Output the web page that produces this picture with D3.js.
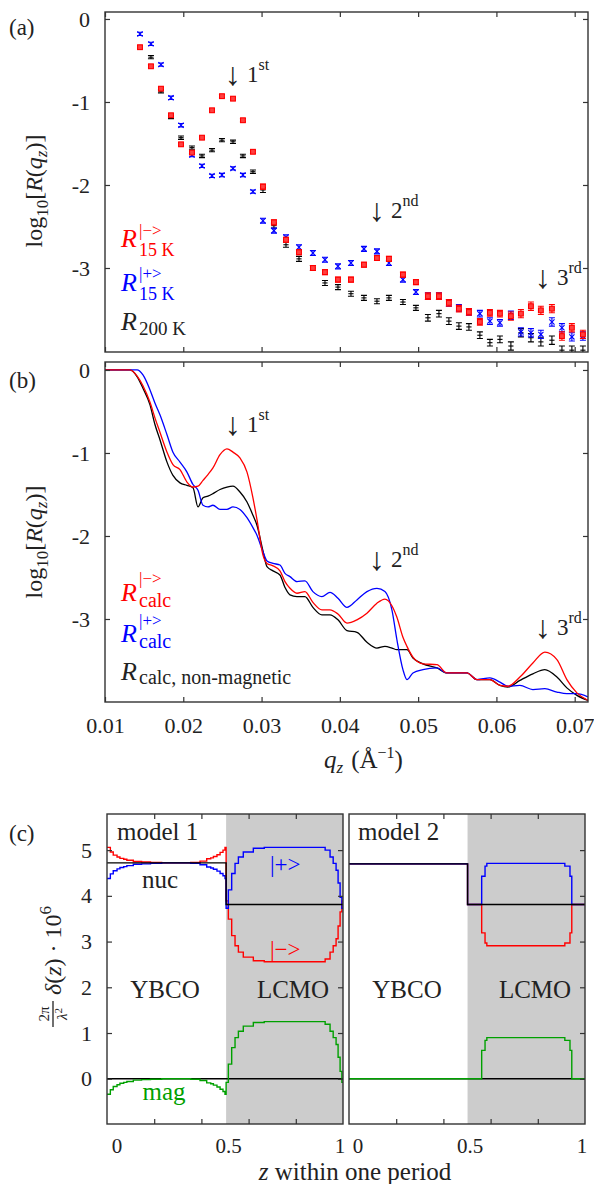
<!DOCTYPE html>
<html>
<head>
<meta charset="utf-8">
<script src="https://cdn.jsdelivr.net/npm/d3@7"></script>
<style>
  body { margin: 0; background: #fff; }
  text { font-family: "Liberation Serif", "DejaVu Serif", serif; }
</style>
</head>
<body>
<svg id="fig" width="594" height="1184"></svg>
<script>
// ---- (a) measured reflectivity, log10 R
const qA = [0.01447, 0.01587, 0.01715, 0.01843, 0.01971, 0.02111, 0.02239, 0.02367, 0.02494, 0.02635,
  0.02762, 0.02890, 0.03018, 0.03158, 0.03312, 0.03478, 0.03656, 0.03810, 0.03976, 0.04142,
  0.04308, 0.04474, 0.04627, 0.04806, 0.04972, 0.05125, 0.05266, 0.05393, 0.05521, 0.05649,
  0.05789, 0.05917, 0.06045, 0.06185, 0.06313, 0.06441, 0.06568, 0.06709, 0.06837, 0.06964, 0.07105]
const redA = [-0.34, -0.57, -0.84, -1.16, -1.51, -1.61, -1.43, -1.10, -0.93, -0.96,
  -1.22, -1.60, -2.02, -2.45, -2.66, -2.81, -3.00, -3.05, -3.14, -3.14,
  -2.96, -2.88, -2.89, -3.08, -3.17, -3.34, -3.34, -3.42, -3.49, -3.53,
  -3.65, -3.54, -3.55, -3.58, -3.55, -3.46, -3.51, -3.49, -3.82, -3.72, -3.80]
const blueA = [-0.18, -0.30, -0.55, -0.95, -1.28, -1.64, -1.77, -1.89, -1.88, -1.80,
  -1.88, -2.08, -2.43, -2.55, -2.63, -2.75, -2.82, -2.90, -2.98, -2.94,
  -2.77, -2.80, -2.94, -3.14, -3.29, -3.34, -3.34, -3.42, -3.48, -3.53,
  -3.55, -3.64, -3.66, -3.57, -3.77, -3.78, -3.80, -3.65, -3.72, -3.83, -3.82]
const blackA = [null, -0.46, -0.87, -1.18, -1.43, -1.55, -1.65, -1.58, -1.46, -1.48,
  -1.65, -1.84, -2.06, -2.49, -2.72, -2.89, -3.00, -3.18, -3.23, -3.31,
  -3.36, -3.40, -3.36, -3.41, -3.48, -3.60, -3.55, -3.64, -3.70, -3.71,
  -3.81, -3.90, -3.86, -3.94, -3.78, -3.84, -3.89, -3.87, -3.99, -3.99, -3.99]
const errA = [0.02, 0.02, 0.02, 0.02, 0.02, 0.02, 0.02, 0.02, 0.02, 0.02,
  0.02, 0.02, 0.03, 0.03, 0.03, 0.03, 0.03, 0.03, 0.03, 0.03,
  0.03, 0.03, 0.03, 0.03, 0.03, 0.04, 0.04, 0.04, 0.04, 0.04,
  0.04, 0.04, 0.04, 0.05, 0.05, 0.05, 0.05, 0.05, 0.05, 0.05, 0.05]

// ---- (b) calculated reflectivity, log10 R
const qB = [0.0100, 0.01319, 0.01409, 0.01485, 0.01575, 0.01639, 0.01702, 0.01792, 0.01868, 0.01958,
  0.02047, 0.02124, 0.02188, 0.02252, 0.02315, 0.02379, 0.02469, 0.02558, 0.02635, 0.02724,
  0.02814, 0.02890, 0.02941, 0.03018, 0.03069, 0.03146, 0.03235, 0.03299, 0.03363, 0.03452,
  0.03554, 0.03656, 0.03771, 0.03874, 0.03976, 0.04091, 0.04218, 0.04346, 0.04474, 0.04576,
  0.04665, 0.04729, 0.04806, 0.04857, 0.04934, 0.05061, 0.05240, 0.05368, 0.05496, 0.05623,
  0.05751, 0.05917, 0.06045, 0.06147, 0.06300, 0.06466, 0.06619, 0.06773, 0.06900, 0.07028, 0.07169]
const redB = [0, 0, -0.07, -0.19, -0.39, -0.58, -0.75, -0.99, -1.14, -1.20,
  -1.35, -1.41, -1.40, -1.33, -1.26, -1.18, -1.02, -0.95, -0.99, -1.06,
  -1.23, -1.54, -1.80, -2.23, -2.33, -2.36, -2.42, -2.55, -2.63, -2.69,
  -2.67, -2.80, -2.89, -2.89, -2.94, -3.05, -3.01, -2.93, -2.81, -2.76,
  -2.84, -2.98, -3.22, -3.33, -3.46, -3.54, -3.55, -3.65, -3.65, -3.65,
  -3.73, -3.73, -3.80, -3.81, -3.70, -3.53, -3.40, -3.49, -3.73, -3.89, -3.98]
const blueB = [0, 0, 0, -0.06, -0.24, -0.40, -0.54, -0.78, -0.99, -1.11,
  -1.23, -1.38, -1.45, -1.63, -1.65, -1.63, -1.68, -1.68, -1.65, -1.68,
  -1.78, -1.90, -1.99, -2.19, -2.30, -2.33, -2.35, -2.45, -2.49, -2.55,
  -2.54, -2.67, -2.73, -2.68, -2.75, -2.86, -2.77, -2.67, -2.63, -2.67,
  -2.89, -3.25, -3.61, -3.73, -3.65, -3.61, -3.59, -3.65, -3.65, -3.65,
  -3.73, -3.71, -3.76, -3.81, -3.80, -3.85, -3.84, -3.88, -3.90, -3.90, -3.94]
const blackB = [0, 0, -0.08, -0.22, -0.42, -0.66, -0.84, -1.11, -1.27, -1.36,
  -1.39, -1.42, -1.65, -1.54, -1.52, -1.49, -1.44, -1.41, -1.40, -1.47,
  -1.59, -1.75, -1.87, -2.18, -2.37, -2.42, -2.47, -2.62, -2.71, -2.73,
  -2.73, -2.86, -2.95, -2.95, -3.01, -3.14, -3.16, -3.28, -3.35, -3.33,
  -3.35, -3.37, -3.37, -3.37, -3.47, -3.54, -3.59, -3.65, -3.65, -3.65,
  -3.73, -3.73, -3.80, -3.82, -3.74, -3.66, -3.61, -3.70, -3.83, -3.92, -3.98]

const qTicks = [0.01, 0.02, 0.03, 0.04, 0.05, 0.06, 0.07]
const logTicks = [0, -1, -2, -3]

// ---- (c) depth profiles, z in units of one period
const iface = 0.489
const nucM1 = [4.72, 3.81] // YBCO, LCMO
const zM1 = [-0.045, -0.030, -0.017, 0.000, 0.013, 0.030, 0.044, 0.073, 0.110, 0.150,
  0.200, 0.290, 0.330, 0.372, 0.402, 0.420, 0.432, 0.448, 0.462, 0.475,
  0.484, 0.489, 0.499, 0.514, 0.529, 0.544, 0.566, 0.611, 0.660, 0.910,
  0.933, 0.955, 0.969, 0.982, 0.991, 1.000, 1.008, 1.013]
const magM1 = [-0.34, -0.24, -0.17, -0.13, -0.10, -0.08, -0.06, -0.03, -0.02, -0.01,
  0.00, 0.00, -0.01, -0.04, -0.09, -0.11, -0.14, -0.18, -0.23, -0.28,
  -0.34, -0.08, 0.32, 0.68, 0.90, 1.04, 1.15, 1.23, 1.25, 1.25,
  1.19, 1.04, 0.90, 0.75, 0.47, 0.16, -0.08, -0.08]
const nucM2 = [4.70, 3.81]
const zM2 = [-0.04, 0.489, 0.552, 0.567, 0.575, 0.923, 0.946, 0.954, 1.013]
const magM2 = [0, 0, 0.62, 0.84, 0.90, 0.84, 0.62, 0, 0]
const profTicks = [0, 1, 2, 3, 4, 5]

const RED = '#ff0000'
const BLUE = '#0000ff'
const BLK = '#000000'
const GRN = '#00a000'
const INK = '#222222'

const svg = d3.select('#fig')

// scales
const xQ = d3.scaleLinear().domain([0.01, 0.0717]).range([105, 588])
const yA = d3.scaleLinear().domain([-4.012, 0.084]).range([352, 12])
const yB = d3.scaleLinear().domain([-4.0, 0.096]).range([702, 362])
const xL = d3.scaleLinear().domain([-0.045, 1.013]).range([107, 343])
const xR = d3.scaleLinear().domain([-0.04, 1.013]).range([349, 585])
const yC = d3.scaleLinear().domain([-0.99, 5.79]).range([1124, 814])

function addClip (id, x, y) {
  svg.append('clipPath').attr('id', id).append('rect')
    .attr('x', x.range()[0]).attr('y', y.range()[1])
    .attr('width', x.range()[1] - x.range()[0])
    .attr('height', y.range()[0] - y.range()[1])
}

const noLabel = () => ''
function clean (s) {
  s.select('.domain').remove()
  s.attr('font-size', null).attr('font-family', null)
}

function axes (x, y, o) {
  const [x0, x1] = x.range()
  const [yb, yt] = y.range()
  const g = svg.append('g').attr('color', '#333').attr('font-size', o.fs || 22)
  g.append('g').attr('transform', `translate(0,${yb})`)
    .call(d3.axisBottom(x).tickValues(o.xt).tickSize(-5).tickPadding(15).tickFormat(o.xfmt || noLabel))
    .call(clean)
  g.append('g').attr('transform', `translate(0,${yt})`)
    .call(d3.axisTop(x).tickValues(o.xt).tickSize(-5).tickFormat(noLabel))
    .call(clean)
  if (o.left !== false) {
    g.append('g').attr('transform', `translate(${x0},0)`)
      .call(d3.axisLeft(y).tickValues(o.yt).tickSize(-5).tickPadding(15).tickFormat(o.yfmt || noLabel))
      .call(clean)
  }
  g.append('g').attr('transform', `translate(${x1},0)`)
    .call(d3.axisRight(y).tickValues(o.yt).tickSize(-5).tickFormat(noLabel))
    .call(clean)
  g.selectAll('.tick line').attr('stroke-width', 1.2)
  g.selectAll('.tick text').attr('fill', INK)
  g.append('rect').attr('x', x0).attr('y', yt).attr('width', x1 - x0).attr('height', yb - yt)
    .attr('fill', 'none').attr('stroke', '#333').attr('stroke-width', 1.4)
}

// ---------- panel (a)
addClip('clipA', xQ, yA)
const gA = svg.append('g').attr('clip-path', 'url(#clipA)')

function scatter (vals, color, kind) {
  const pts = qA.map((q, i) => ({ q, v: vals[i], e: errA[i] })).filter(d => d.v !== null)
  const g = gA.append('g').attr('stroke', color).attr('stroke-width', 1.1).attr('fill', 'none')
  const sel = g.selectAll('g').data(pts).join('g')
    .attr('transform', d => `translate(${xQ(d.q)},0)`)
  sel.append('path').attr('d', d => {
    const a = yA(d.v + d.e)
    const b = yA(d.v - d.e)
    return `M0,${a}V${b}M-3,${a}H3M-3,${b}H3`
  })
  if (kind === 'sq') {
    sel.append('rect').attr('x', -2.4).attr('y', d => yA(d.v) - 2.4)
      .attr('width', 4.8).attr('height', 4.8).attr('fill', '#ff4040')
  } else if (kind === 'x') {
    sel.append('path').attr('d', d => {
      const y = yA(d.v)
      return `M-2.6,${y - 2.6}L2.6,${y + 2.6}M-2.6,${y + 2.6}L2.6,${y - 2.6}`
    })
  } else {
    sel.append('path').attr('d', d => `M-2.6,${yA(d.v)}H2.6`)
  }
}
scatter(blackA, BLK, '+')
scatter(blueA, BLUE, 'x')
scatter(redA, RED, 'sq')

axes(xQ, yA, { xt: qTicks, yt: logTicks, yfmt: d => String(d) })

// ---------- panel (b)
addClip('clipB', xQ, yB)
const gB = svg.append('g').attr('clip-path', 'url(#clipB)').attr('fill', 'none').attr('stroke-width', 1.3)
const lineB = d3.line().x((d, i) => xQ(qB[i])).y(d => yB(d)).curve(d3.curveMonotoneX)
gB.append('path').attr('d', lineB(blackB)).attr('stroke', BLK)
gB.append('path').attr('d', lineB(blueB)).attr('stroke', BLUE)
gB.append('path').attr('d', lineB(redB)).attr('stroke', RED)

axes(xQ, yB, { xt: qTicks, yt: logTicks, yfmt: d => String(d), xfmt: d3.format('.2f') })

// ---------- panel (c)
function profile (x, zs, mags, nucLv, clipId) {
  const r1 = x.range()[1]
  const dom = x.domain()
  addClip(clipId, x, yC)
  svg.append('rect').attr('x', x(iface)).attr('y', yC.range()[1])
    .attr('width', r1 - x(iface)).attr('height', yC.range()[0] - yC.range()[1])
    .attr('fill', '#cccccc')
  const nuc = z => (z < iface ? nucLv[0] : nucLv[1])
  const g = svg.append('g').attr('clip-path', `url(#${clipId})`).attr('fill', 'none').attr('stroke-width', 1.4)
  const step = d3.line().x(d => x(d[0])).y(d => yC(d[1])).curve(d3.curveStepAfter)
  const lin = d3.line().x(d => x(d[0])).y(d => yC(d[1]))
  g.append('path').attr('d', lin([[dom[0], 0], [dom[1], 0]])).attr('stroke', BLK)
  g.append('path').attr('d', step(zs.map((z, i) => [z, mags[i]]))).attr('stroke', GRN)
  g.append('path').attr('d', step(zs.map((z, i) => [z, nuc(z) - mags[i]]))).attr('stroke', RED)
  g.append('path').attr('d', step(zs.map((z, i) => [z, nuc(z) + mags[i]]))).attr('stroke', BLUE)
  g.append('path').attr('d', lin([[dom[0], nucLv[0]], [iface, nucLv[0]], [iface, nucLv[1]], [dom[1], nucLv[1]]]))
    .attr('stroke', BLK)
  // fifths of the frame for the minor ticks
  return d3.range(1, 5).map(i => dom[0] + i * (dom[1] - dom[0]) / 5)
}
const ticksL = profile(xL, zM1, magM1, nucM1, 'clipC1')
axes(xL, yC, { xt: ticksL, yt: profTicks, yfmt: d => String(d), fs: 22 })
const ticksR = profile(xR, zM2, magM2, nucM2, 'clipC2')
axes(xR, yC, { xt: ticksR, yt: profTicks, left: false, fs: 22 })

// z tick labels
for (const x of [xL, xR]) {
  for (const v of [0, 0.5, 1]) {
    svg.append('text').attr('x', x(v)).attr('y', 1153).attr('text-anchor', 'middle')
      .attr('font-size', 21).attr('fill', INK).text(String(v))
  }
}

// ---------- text
function label (x, y, s, size, fill, anchor) {
  return svg.append('text').attr('x', x).attr('y', y).attr('font-size', size)
    .attr('fill', fill || INK).attr('text-anchor', anchor || 'start').text(s)
}

label(9, 35, '(a)', 23)
label(9, 388, '(b)', 23)
label(9, 841, '(c)', 23)

function logLabel (cx, cy) {
  const t = svg.append('text').attr('transform', `translate(${cx},${cy}) rotate(-90)`)
    .attr('text-anchor', 'middle').attr('font-size', 24).attr('fill', INK)
  t.append('tspan').text('log')
  t.append('tspan').attr('font-size', 17).attr('dy', 6).text('10')
  t.append('tspan').attr('dy', -6).text('[')
  t.append('tspan').attr('font-style', 'italic').text('R')
  t.append('tspan').text('(')
  t.append('tspan').attr('font-style', 'italic').text('q')
  t.append('tspan').attr('font-style', 'italic').attr('font-size', 17).attr('dy', 5).text('z')
  t.append('tspan').attr('dy', -5).text(')]')
}
logLabel(42, 191)
logLabel(42, 542)

function order (xa, yb, num, sup) {
  label(xa, yb + 3, '↓', 32, INK, 'middle')
  const t = label(xa + 14, yb, num, 23)
  t.append('tspan').attr('font-size', 16).attr('dy', -12).text(sup)
}
order(233, 82, '1', 'st')
order(377, 218, '2', 'nd')
order(543, 285, '3', 'rd')
order(233, 432, '1', 'st')
order(377, 567, '2', 'nd')
order(543, 635, '3', 'rd')

function rLabel (x, y, color, sup, supY, sub, subY, subSize) {
  label(x, y, 'R', 26, color).attr('font-style', 'italic')
  if (sup) label(x + 18, supY, sup, 17, color)
  label(x + 18, subY, sub, subSize || 18, color)
}
rLabel(121, 247, RED, '|−>', 236, '15 K', 256)
rLabel(121, 291, BLUE, '|+>', 279, '15 K', 300)
rLabel(121, 330, INK, null, 0, '200 K', 335, 19)
rLabel(121, 601, RED, '|−>', 584, 'calc', 607, 20)
rLabel(121, 642, BLUE, '|+>', 626, 'calc', 648, 20)
rLabel(121, 680, INK, null, 0, 'calc, non-magnetic', 684, 20)

// q_z axis title
const qt = label(324, 768, '', 25)
qt.append('tspan').attr('font-style', 'italic').text('q')
qt.append('tspan').attr('font-style', 'italic').attr('font-size', 17).attr('dy', 5).text('z')
qt.append('tspan').attr('dy', -5).attr('dx', 8).text('(Å')
qt.append('tspan').attr('font-size', 16).attr('dy', -10).text('−1')
qt.append('tspan').attr('dy', 10).text(')')

// panel (c) annotations
label(117, 840, 'model 1', 25)
label(358, 840, 'model 2', 25)
label(160, 888, 'nuc', 25, INK, 'middle')
label(270, 872, '|+>', 23, BLUE)
label(270, 957, '|−>', 23, RED)
label(165, 998, 'YBCO', 25, INK, 'middle')
label(293, 998, 'LCMO', 25, INK, 'middle')
label(407, 998, 'YBCO', 25, INK, 'middle')
label(535, 998, 'LCMO', 25, INK, 'middle')
label(164, 1100, 'mag', 25, GRN, 'middle')

// z axis title
const zt = label(355, 1180, '', 25).attr('text-anchor', 'middle')
zt.append('tspan').attr('font-style', 'italic').text('z')
zt.append('tspan').text(' within one period')

// y title of (c): 2π/λ² δ(z) · 10^6
const yl = svg.append('g').attr('transform', 'translate(61,1027) rotate(-90)').attr('fill', INK)
yl.append('text').attr('x', 13).attr('y', -12).attr('font-size', 15).attr('text-anchor', 'middle').text('2π')
yl.append('line').attr('x1', 0).attr('x2', 26).attr('y1', -8).attr('y2', -8).attr('stroke', INK).attr('stroke-width', 1.3)
const den = yl.append('text').attr('x', 13).attr('y', 6).attr('font-size', 15).attr('text-anchor', 'middle')
den.append('tspan').attr('font-style', 'italic').text('λ')
den.append('tspan').attr('font-size', 11).attr('dy', -5).text('2')
const yt = yl.append('text').attr('x', 32).attr('y', 0).attr('font-size', 24)
yt.append('tspan').attr('font-style', 'italic').text('δ')
yt.append('tspan').text('(')
yt.append('tspan').attr('font-style', 'italic').text('z')
yt.append('tspan').text(') · 10')
yt.append('tspan').attr('font-size', 17).attr('dy', -10).text('6')
</script>
</body>
</html>
